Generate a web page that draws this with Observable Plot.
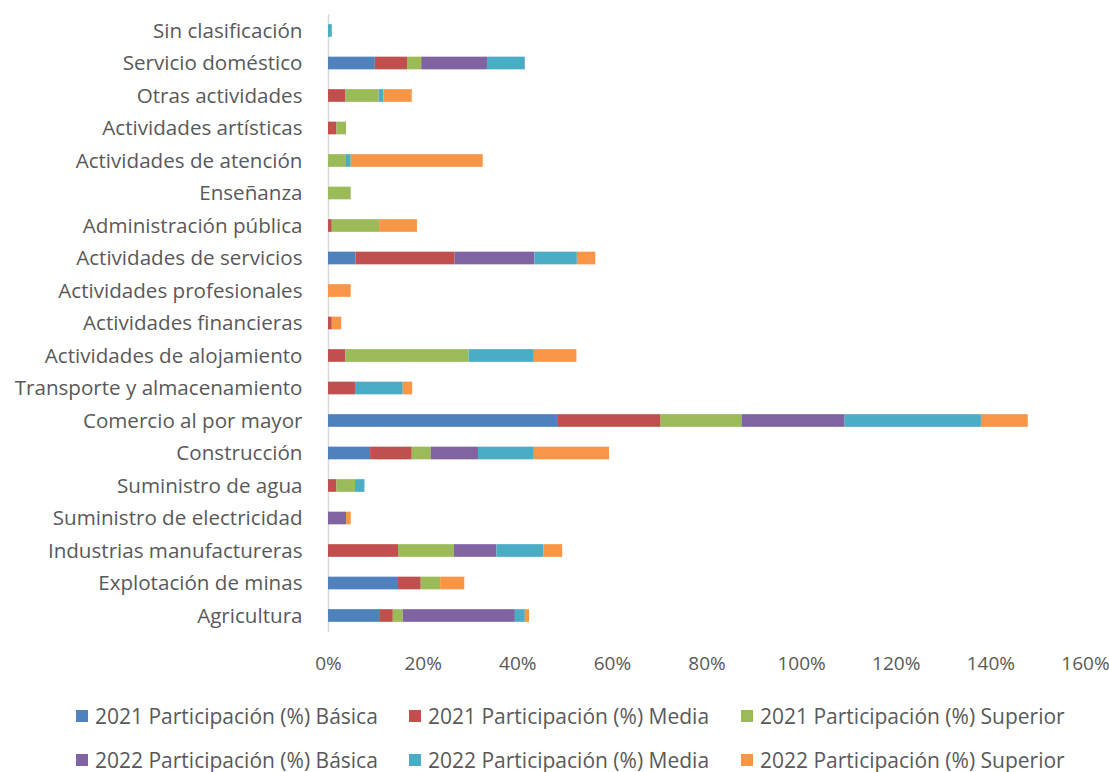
<!DOCTYPE html>
<html>
<head>
<meta charset="utf-8">
<script src="https://cdn.jsdelivr.net/npm/d3@7"></script>
<script src="https://cdn.jsdelivr.net/npm/@observablehq/plot@0.6"></script>
<style>
  body { margin: 0; background: #fff; font-family: "Open Sans", Lato, sans-serif; color: #595959; }
  #legend { display: grid; grid-template-columns: 333px 332px auto; padding-left: 76px; row-gap: 18px; margin-top: 13px; font-size: 21px; line-height: 26px; }
  .item { display: flex; align-items: center; white-space: nowrap; }
  .sw { width: 12px; height: 12px; margin-right: 7px; flex: none; }
</style>
</head>
<body>
<div id="chart"></div>
<div id="legend"></div>
<script>
const categories = [
  "Sin clasificación", "Servicio doméstico", "Otras actividades", "Actividades artísticas",
  "Actividades de atención", "Enseñanza", "Administración pública", "Actividades de servicios",
  "Actividades profesionales", "Actividades financieras", "Actividades de alojamiento",
  "Transporte y almacenamiento", "Comercio al por mayor", "Construcción", "Suministro de agua",
  "Suministro de electricidad", "Industrias manufactureras", "Explotación de minas", "Agricultura"
];
const seriesNames = [
  "2021 Participación (%) Básica", "2021 Participación (%) Media", "2021 Participación (%) Superior",
  "2022 Participación (%) Básica", "2022 Participación (%) Media", "2022 Participación (%) Superior"
];
const colors = ["#4F81BD", "#C0504D", "#9BBB59", "#8064A2", "#4BACC6", "#F79646"];
// values in %, same order as categories
const basica2021   = [0, 9.9, 0, 0, 0, 0, 0, 5.8, 0, 0, 0, 0, 48.6, 8.9, 0, 0, 0, 14.8, 10.8];
const media2021    = [0, 6.8, 3.7, 1.8, 0, 0, 0.8, 20.9, 0, 0.8, 3.7, 5.7, 21.7, 8.8, 1.8, 0, 14.8, 4.8, 2.9];
const superior2021 = [0, 3.0, 7.0, 2.0, 3.8, 4.8, 10.0, 0, 0, 0, 26.0, 0, 17.1, 4.0, 3.9, 0, 11.8, 4.1, 2.1];
const basica2022   = [0, 13.9, 0, 0, 0, 0, 0, 16.9, 0, 0, 0, 0, 21.8, 10.0, 0, 3.8, 9.0, 0, 23.7];
const media2022    = [0.8, 8.0, 1.0, 0, 1.0, 0, 0, 9.0, 0, 0, 13.8, 10.1, 28.8, 11.8, 2.0, 0, 9.9, 0, 2.1];
const superior2022 = [0, 0, 6.0, 0, 27.9, 0, 8.0, 3.9, 4.8, 2.0, 9.0, 2.0, 9.9, 15.9, 0, 1.0, 4.0, 5.1, 0.9];
const xTicks = [0, 20, 40, 60, 80, 100, 120, 140, 160];

const allSeries = [basica2021, media2021, superior2021, basica2022, media2022, superior2022];
const data = [];
categories.forEach((c, i) => {
  allSeries.forEach((arr, s) => {
    data.push({cat: c, series: seriesNames[s], value: arr[i]});
  });
});

const chart = Plot.plot({
  width: 1109,
  height: 690,
  marginTop: 14.25,
  marginBottom: 58.25,
  marginLeft: 328,
  marginRight: 24,
  style: {fontFamily: "'Open Sans', Lato, sans-serif", fontSize: "20px", color: "#595959", background: "#fff"},
  x: {domain: [0, 160], ticks: xTicks, tickFormat: d => d + "%"},
  y: {domain: categories, paddingInner: 0.61, paddingOuter: 0.305, round: false},
  color: {domain: seriesNames, range: colors},
  marks: [
    Plot.ruleX([0], {stroke: "#d9d9d9", strokeWidth: 1.5}),
    Plot.barX(data, {x: "value", y: "cat", fill: "series", order: seriesNames}),
    Plot.axisX({ticks: xTicks, tickFormat: d => d + "%", tickSize: 0, tickPadding: 24, label: null, fontSize: 19}),
    Plot.axisY({tickSize: 0, tickPadding: 26, label: null, fontSize: 20.6})
  ]
});
document.getElementById("chart").appendChild(chart);

const legend = document.getElementById("legend");
seriesNames.forEach((n, i) => {
  const it = document.createElement("div");
  it.className = "item";
  const sw = document.createElement("span");
  sw.className = "sw";
  sw.style.background = colors[i];
  it.appendChild(sw);
  it.appendChild(document.createTextNode(n));
  legend.appendChild(it);
});
</script>
</body>
</html>
